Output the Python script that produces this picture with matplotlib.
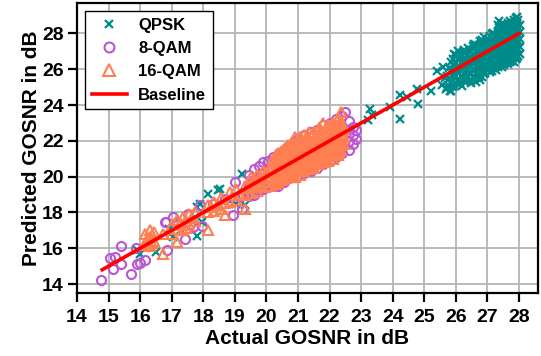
import matplotlib
matplotlib.use('Agg')
import matplotlib.pyplot as plt

plt.rcParams.update({
    'font.family': ['Liberation Sans', 'DejaVu Sans'],
    'font.weight': 'bold',
    'axes.labelweight': 'bold',
})

# QPSK: scattered low points, then the dense cluster near 26-28 dB
qpsk_x = [15.98, 16.51, 15.89, 16.30, 16.90, 17.05, 17.30, 17.79, 17.95, 17.90, 17.79,
          18.16, 18.47, 18.53, 18.80, 19.05, 19.22, 19.32, 19.37, 19.60, 20.10, 20.50,
          23.28, 23.33, 23.23, 23.91, 24.23, 24.23, 24.44, 24.76, 24.81, 25.20, 25.55,
          25.80, 25.66, 25.60, 25.39, 25.81, 25.70,
          25.72, 25.72, 25.84, 25.84, 25.84, 25.84, 25.95, 25.95, 25.95, 25.95,
          26.06, 26.06, 26.06, 26.06, 26.06, 26.18, 26.18, 26.18, 26.18, 26.18,
          26.27, 26.27, 26.27, 26.27, 26.27, 26.39, 26.39, 26.39, 26.39, 26.39,
          26.48, 26.48, 26.48, 26.48, 26.48, 26.58, 26.58, 26.58, 26.58, 26.58, 26.58,
          26.69, 26.69, 26.69, 26.69, 26.69, 26.77, 26.77, 26.77, 26.77, 26.77, 26.77,
          26.88, 26.88, 26.88, 26.88, 26.88, 26.88, 26.97, 26.97, 26.97, 26.97, 26.97,
          27.08, 27.08, 27.08, 27.08, 27.08, 27.08, 27.18, 27.18, 27.18, 27.18, 27.18, 27.18,
          27.27, 27.27, 27.27, 27.27, 27.27, 27.27,
          27.38, 27.38, 27.38, 27.38, 27.38, 27.38, 27.38,
          27.47, 27.47, 27.47, 27.47, 27.47, 27.47, 27.47,
          27.57, 27.57, 27.57, 27.57, 27.57, 27.57,
          27.66, 27.66, 27.66, 27.66, 27.66, 27.66, 27.66,
          27.76, 27.76, 27.76, 27.76, 27.76, 27.76,
          27.85, 27.85, 27.85, 27.85, 27.85, 27.85, 27.85,
          27.94, 27.94, 27.94, 27.94, 27.94, 27.94, 27.94,
          28.02, 28.02, 28.02, 28.02, 28.02]
qpsk_y = [15.70, 15.78, 15.88, 16.20, 17.10, 16.60, 17.00, 16.70, 17.46, 18.49, 18.30,
          19.04, 19.23, 19.32, 18.70, 18.49, 20.16, 18.39, 18.86, 19.30, 19.50, 20.20,
          23.79, 23.42, 23.14, 23.88, 24.54, 23.23, 24.44, 24.91, 24.07, 24.76, 25.10,
          25.00, 25.50, 26.10, 25.90, 24.80, 24.90,
          25.02, 25.63, 24.81, 25.31, 25.95, 26.42, 25.12, 25.58, 26.21, 26.83,
          25.41, 25.83, 26.12, 26.58, 27.02, 25.05, 25.62, 26.04, 26.41, 26.77,
          25.36, 25.81, 26.25, 26.63, 27.08, 25.55, 25.98, 26.37, 26.86, 27.21,
          25.21, 25.74, 26.15, 26.52, 26.95, 25.49, 25.93, 26.33, 26.72, 27.15, 27.42,
          25.68, 26.08, 26.47, 26.88, 27.31, 25.38, 25.85, 26.26, 26.64, 27.05, 27.58,
          25.72, 26.13, 26.55, 26.97, 27.36, 27.79, 25.95, 26.38, 26.79, 27.18, 27.52,
          25.84, 26.25, 26.66, 27.03, 27.44, 27.86, 26.07, 26.51, 26.92, 27.29, 27.68, 28.02,
          25.98, 26.36, 26.77, 27.15, 27.56, 27.93,
          26.22, 26.63, 27.04, 27.42, 27.81, 28.21, 28.68,
          26.11, 26.48, 26.89, 27.27, 27.69, 28.08, 28.42,
          26.35, 26.76, 27.14, 27.55, 27.96, 28.33,
          26.27, 26.62, 27.01, 27.41, 27.83, 28.24, 28.57,
          26.48, 26.88, 27.28, 27.67, 28.05, 28.46,
          26.41, 26.79, 27.18, 27.58, 27.97, 28.38, 28.76,
          26.62, 27.03, 27.45, 27.84, 28.22, 28.61, 28.94,
          26.85, 27.26, 27.68, 28.09, 28.47]

# extra QPSK points filling the dense cluster
qpsk_fill_x = [25.78, 25.78, 25.90, 25.90, 25.90, 26.01, 26.01, 26.01, 26.01,
               26.12, 26.12, 26.12, 26.22, 26.22, 26.22, 26.22,
               26.33, 26.33, 26.33, 26.33, 26.33, 26.44, 26.44, 26.44, 26.44, 26.44,
               26.53, 26.53, 26.53, 26.53, 26.53, 26.63, 26.63, 26.63, 26.63, 26.63, 26.63,
               26.73, 26.73, 26.73, 26.73, 26.73, 26.83, 26.83, 26.83, 26.83, 26.83, 26.83,
               26.93, 26.93, 26.93, 26.93, 26.93, 27.03, 27.03, 27.03, 27.03, 27.03,
               27.13, 27.13, 27.13, 27.13, 27.13, 27.13, 27.23, 27.23, 27.23, 27.23, 27.23,
               27.33, 27.33, 27.33, 27.33, 27.33, 27.33, 27.33,
               27.43, 27.43, 27.43, 27.43, 27.43, 27.43,
               27.52, 27.52, 27.52, 27.52, 27.52, 27.52, 27.52,
               27.62, 27.62, 27.62, 27.62, 27.62, 27.62,
               27.71, 27.71, 27.71, 27.71, 27.71, 27.71, 27.71,
               27.81, 27.81, 27.81, 27.81, 27.81, 27.81,
               27.90, 27.90, 27.90, 27.90, 27.90, 27.90, 27.90,
               27.98, 27.98, 27.98, 27.98, 27.98, 27.98]
qpsk_fill_y = [25.45, 26.05, 25.00, 25.75, 26.55, 25.25, 25.62, 26.35, 26.80,
               25.22, 26.00, 26.90, 25.45, 25.95, 26.50, 26.95,
               25.30, 25.70, 26.10, 26.50, 26.95, 25.40, 25.85, 26.25, 26.68, 27.05,
               25.55, 25.95, 26.38, 26.80, 27.30, 25.30, 25.75, 26.15, 26.55, 26.98, 27.35,
               25.55, 26.00, 26.42, 26.85, 27.25, 25.55, 25.95, 26.40, 26.80, 27.20, 27.65,
               25.80, 26.25, 26.68, 27.05, 27.45, 26.10, 26.50, 26.90, 27.35, 27.70,
               25.90, 26.35, 26.80, 27.18, 27.55, 27.95, 26.20, 26.60, 27.00, 27.40, 27.80,
               26.10, 26.50, 26.90, 27.30, 27.70, 28.10, 28.45,
               26.35, 26.78, 27.15, 27.55, 27.95, 28.35,
               26.25, 26.60, 27.02, 27.40, 27.82, 28.20, 28.55,
               26.45, 26.90, 27.30, 27.70, 28.10, 28.45,
               26.38, 26.75, 27.15, 27.55, 27.95, 28.35, 28.70,
               26.60, 27.00, 27.40, 27.80, 28.20, 28.60,
               26.55, 26.95, 27.35, 27.75, 28.15, 28.50, 28.85,
               26.75, 27.15, 27.55, 27.95, 28.35, 28.75]

# 8-QAM
qam8_x = [14.77, 15.38, 15.03, 15.19, 15.14, 15.40, 15.72, 15.91, 16.14, 15.98, 15.86,
          16.83, 16.86, 17.50, 17.41, 17.67, 16.79, 17.05, 17.16, 17.58, 17.95, 17.90,
          18.31, 18.69, 18.95, 19.00, 19.22, 19.27, 19.16,
          19.45, 19.45, 19.45, 19.60, 19.60, 19.60, 19.75, 19.75, 19.75, 19.90, 19.90, 19.90,
          20.05, 20.05, 20.05, 20.22, 20.22, 20.22, 20.38, 20.40, 20.40, 20.40,
          20.55, 20.55, 20.55, 20.70, 20.70, 20.70, 20.85, 20.85, 20.85,
          21.00, 21.00, 21.00, 21.20, 21.20, 21.20, 21.40, 21.40, 21.40,
          21.60, 21.60, 21.60, 21.80, 21.80, 21.80, 22.00, 22.00, 22.00,
          22.20, 22.20, 22.20, 22.40, 22.40, 22.40, 22.49,
          22.60, 22.60, 22.60, 22.60, 22.75, 22.75, 22.75, 22.85, 22.85]
qam8_y = [14.24, 16.10, 15.47, 15.50, 14.85, 15.10, 14.54, 15.13, 15.32, 15.20, 16.00,
          17.46, 15.88, 17.90, 16.53, 17.18, 17.46, 17.74, 17.46, 17.37, 17.27, 18.39,
          18.49, 18.76, 17.83, 19.70, 18.20, 18.95, 18.86,
          18.90, 19.50, 20.10, 19.00, 19.80, 20.40, 19.20, 20.00, 20.60, 19.30, 20.20, 20.80,
          19.40, 20.30, 20.90, 19.50, 20.50, 21.09, 19.50, 19.60, 20.60, 21.30,
          19.70, 20.70, 21.50, 19.90, 20.90, 21.70, 20.00, 21.10, 21.90,
          20.10, 21.20, 22.10, 20.20, 21.30, 22.30, 20.30, 21.50, 22.50,
          20.50, 21.60, 22.60, 20.70, 21.80, 22.90, 20.90, 22.00, 23.00,
          21.10, 22.10, 23.20, 21.30, 22.30, 23.40, 23.60,
          21.50, 22.00, 22.60, 23.10, 21.84, 22.30, 22.80, 22.58, 22.10]

# 16-QAM
qam16_x = [16.15, 16.15, 16.30, 16.30, 16.30, 16.45, 16.45, 16.72, 16.72, 17.00, 17.00,
           17.18, 17.18, 17.18, 17.36, 17.36, 17.55, 17.55, 17.75, 17.75,
           18.16, 18.16, 18.16, 18.35, 18.35, 18.55, 18.55, 18.69, 18.69, 18.85, 18.85,
           19.05, 19.05, 19.32, 19.32, 19.32, 19.50, 19.50, 19.50, 19.70, 19.70, 19.70,
           19.90, 19.90, 19.90, 20.10, 20.10, 20.10,
           20.30, 20.30, 20.30, 20.30, 20.30, 20.45, 20.45, 20.45, 20.45, 20.45,
           20.60, 20.60, 20.60, 20.60, 20.60, 20.75, 20.75, 20.75, 20.75, 20.75,
           20.90, 20.90, 20.90, 20.90, 20.90, 20.90, 21.05, 21.05, 21.05, 21.05, 21.05, 21.05,
           21.20, 21.20, 21.20, 21.20, 21.20, 21.20, 21.35, 21.35, 21.35, 21.35, 21.35, 21.35,
           21.50, 21.50, 21.50, 21.50, 21.50, 21.50, 21.65, 21.65, 21.65, 21.65, 21.65, 21.65,
           21.80, 21.80, 21.80, 21.80, 21.80, 21.80, 21.95, 21.95, 21.95, 21.95, 21.95, 21.95,
           22.10, 22.10, 22.10, 22.10, 22.10, 22.10, 22.25, 22.25, 22.25, 22.25, 22.25, 22.25,
           22.35, 22.35, 22.35, 22.35, 22.35, 22.35, 22.45, 22.45, 22.45]
qam16_y = [16.30, 16.80, 16.10, 16.60, 17.00, 16.40, 16.90, 15.69, 16.80, 16.80, 17.30,
           16.34, 17.10, 17.60, 17.74, 17.00, 17.30, 17.90, 17.50, 18.00,
           17.00, 18.00, 18.40, 18.10, 18.60, 18.20, 18.80, 17.83, 18.50, 19.13, 18.60,
           18.70, 19.30, 18.20, 19.00, 19.50, 19.10, 19.60, 20.00, 19.20, 19.70, 20.10,
           19.40, 19.90, 20.30, 19.50, 20.00, 20.50,
           19.60, 20.00, 20.40, 20.80, 21.20, 19.80, 20.20, 20.60, 21.00, 21.40,
           19.90, 20.30, 20.70, 21.10, 21.60, 20.00, 20.40, 20.80, 21.20, 21.60,
           20.00, 20.50, 20.90, 21.30, 21.80, 22.20, 20.10, 20.60, 21.00, 21.40, 21.80, 22.20,
           20.30, 20.70, 21.10, 21.50, 21.90, 22.30, 20.40, 20.80, 21.20, 21.60, 22.00, 22.50,
           20.50, 20.90, 21.30, 21.70, 22.10, 22.50, 20.70, 21.10, 21.50, 21.90, 22.30, 22.70,
           20.80, 21.20, 21.60, 22.00, 22.40, 23.00, 20.90, 21.30, 21.70, 22.10, 22.50, 22.90,
           21.00, 21.40, 21.80, 22.20, 22.60, 23.00, 21.20, 21.60, 22.00, 22.40, 22.80, 23.20,
           21.50, 21.90, 22.30, 22.70, 23.10, 23.60, 21.80, 22.20, 22.60]

# extra 16-QAM points filling the dense band
qam16_fill_x = [16.22, 16.22, 16.38, 16.38, 17.25, 17.45, 17.45, 17.65, 18.25, 18.45,
                19.15, 19.40, 19.60, 19.60, 19.80, 19.80, 20.00, 20.00,
                20.22, 20.22, 20.22, 20.22, 20.38, 20.38, 20.38, 20.38, 20.38,
                20.52, 20.52, 20.52, 20.52, 20.52, 20.68, 20.68, 20.68, 20.68, 20.68,
                20.82, 20.82, 20.82, 20.82, 20.82, 20.98, 20.98, 20.98, 20.98, 20.98,
                21.12, 21.12, 21.12, 21.12, 21.12, 21.28, 21.28, 21.28, 21.28, 21.28,
                21.42, 21.42, 21.42, 21.42, 21.42, 21.58, 21.58, 21.58, 21.58, 21.58,
                21.72, 21.72, 21.72, 21.72, 21.72, 21.88, 21.88, 21.88, 21.88, 21.88,
                22.02, 22.02, 22.02, 22.02, 22.02, 22.18, 22.18, 22.18, 22.18, 22.18,
                22.30, 22.30, 22.30, 22.30, 22.30]
qam16_fill_y = [16.45, 16.20, 16.75, 16.30, 17.35, 17.50, 17.15, 17.70, 18.30, 18.40,
                19.05, 19.35, 19.40, 19.85, 19.55, 20.00, 19.70, 20.20,
                19.80, 20.20, 20.60, 21.00, 19.70, 20.10, 20.50, 20.90, 21.30,
                19.85, 20.25, 20.65, 21.05, 21.50, 20.00, 20.50, 20.90, 21.35, 21.75,
                20.20, 20.60, 21.00, 21.45, 21.95, 20.30, 20.75, 21.20, 21.60, 22.00,
                20.40, 20.85, 21.25, 21.65, 22.05, 20.50, 20.95, 21.35, 21.75, 22.15,
                20.60, 21.00, 21.40, 21.85, 22.25, 20.70, 21.15, 21.55, 21.95, 22.35,
                20.90, 21.35, 21.75, 22.15, 22.60, 21.05, 21.50, 21.90, 22.30, 22.70,
                21.15, 21.60, 22.00, 22.40, 22.80, 21.30, 21.75, 22.15, 22.55, 22.95,
                21.35, 21.75, 22.15, 22.55, 22.95]

baseline_x = [14.8, 28.0]
baseline_y = [14.8, 28.0]

x_ticks = list(range(14, 29))
y_ticks = [14, 16, 18, 20, 22, 24, 26, 28]

fig = plt.figure(figsize=(5.41, 3.56), dpi=100)
ax = fig.add_axes([0.1423, 0.177, 0.8522, 0.8146])

ax.plot(qpsk_x + qpsk_fill_x, qpsk_y + qpsk_fill_y, 'x', color='#008b8b',
        markersize=5.5, markeredgewidth=1.6, label='QPSK', zorder=2)
ax.plot(qam8_x, qam8_y, 'o', color='#ba55d3', markerfacecolor='none', markersize=6.5,
        markeredgewidth=1.5, label='8-QAM', zorder=3)
ax.plot(qam16_x + qam16_fill_x, qam16_y + qam16_fill_y, '^', color='#ff7f50',
        markerfacecolor='none', markersize=7.5, markeredgewidth=1.5,
        label='16-QAM', zorder=4)
ax.plot(baseline_x, baseline_y, '-', color='red', linewidth=2.6, label='Baseline', zorder=5)

ax.set_xlim(14, 28.6)
ax.set_ylim(13.5, 29.7)
ax.set_xticks(x_ticks)
ax.set_yticks(y_ticks)
ax.grid(True, color='#b4b4b4', linewidth=1.3)
ax.set_axisbelow(True)
ax.tick_params(axis='both', labelsize=14, width=1.6, length=6.5)
ax.tick_params(axis='x', pad=5)
ax.tick_params(axis='y', pad=3)
for s in ax.spines.values():
    s.set_linewidth(1.6)

ax.set_xlabel('Actual GOSNR in dB', fontsize=15, labelpad=2)
ax.set_ylabel('Predicted GOSNR in dB', fontsize=15, labelpad=1)

leg = ax.legend(loc='upper left', bbox_to_anchor=(8 / 461, 1 - 8 / 290), borderaxespad=0,
                fancybox=False, framealpha=1, edgecolor='black', fontsize=12,
                handlelength=2.1, handletextpad=0.7, labelspacing=0.5, markerscale=1.1,
                borderpad=0.4)
leg.get_frame().set_linewidth(1.0)

fig.savefig('out.png', dpi=100)
